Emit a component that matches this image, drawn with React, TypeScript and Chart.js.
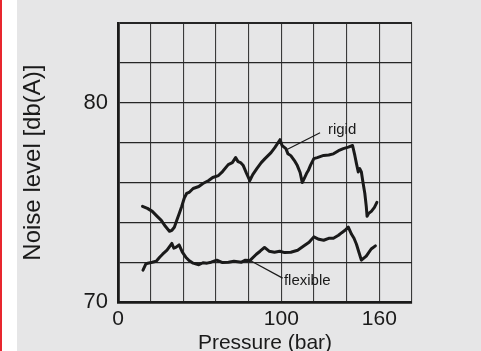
import React, { useEffect, useRef } from "react";
import { Chart, registerables } from "chart.js";

Chart.register(...registerables);

// ---- data ----
const rigidPressure = [15, 18, 21, 24, 26.5, 29, 31.5, 33, 34.5, 36, 37.5, 39, 40.5, 42, 43.5, 46, 49.5, 52, 55.5, 58, 61.5, 64, 67.5, 70, 72, 73.5, 75, 76.7, 78.5, 80.7, 82.5, 85, 87.7, 90, 93.7, 96, 99.2, 100.5, 102.8, 104, 105.8, 108, 109.8, 111.5, 112.8, 114, 115.4, 116.5, 117.9, 119.9, 122, 125.9, 129, 131.9, 135, 137.9, 141, 143.6, 145, 146, 147.1, 148, 149, 150, 151.1, 152, 152.5, 153.5, 155.1, 157, 158.5];
const rigidNoise = [74.8, 74.7, 74.55, 74.3, 74.1, 73.8, 73.55, 73.6, 73.75, 74.1, 74.45, 74.8, 75.2, 75.45, 75.5, 75.7, 75.8, 75.95, 76.1, 76.25, 76.35, 76.55, 76.9, 77.0, 77.25, 77.05, 77.0, 76.85, 76.5, 76.1, 76.4, 76.7, 77.0, 77.2, 77.5, 77.75, 78.15, 77.85, 77.7, 77.45, 77.35, 77.1, 76.85, 76.5, 76.0, 76.2, 76.45, 76.6, 76.87, 77.2, 77.25, 77.36, 77.38, 77.44, 77.6, 77.7, 77.78, 77.86, 77.36, 76.95, 76.53, 76.7, 76.53, 76.0, 75.46, 74.8, 74.3, 74.45, 74.55, 74.75, 75.0];

const flexiblePressure = [15.3, 17, 18.3, 21, 23.4, 25.5, 27.3, 30, 33, 34.2, 35.4, 37.4, 39.4, 41.5, 43.5, 46, 49.5, 52, 54.5, 57, 60.5, 64, 67.6, 71, 75.6, 78, 80.7, 84.7, 87, 89.7, 92.5, 95.8, 99, 102, 105.8, 110, 113.9, 117, 119.9, 123, 125.9, 129, 131.9, 135, 137, 139, 141, 143, 144.5, 146, 147.5, 149, 150.5, 152, 155, 157.6];
const flexibleNoise = [71.6, 71.9, 71.95, 72.0, 72.05, 72.25, 72.4, 72.6, 72.94, 72.7, 72.74, 72.87, 72.5, 72.25, 72.08, 71.95, 71.87, 71.97, 71.95, 72.0, 72.1, 71.98, 72.0, 72.05, 72.0, 72.1, 72.08, 72.4, 72.55, 72.74, 72.55, 72.5, 72.55, 72.48, 72.5, 72.6, 72.82, 73.0, 73.27, 73.15, 73.1, 73.2, 73.2, 73.35, 73.48, 73.6, 73.76, 73.4, 73.2, 72.9, 72.5, 72.1, 72.2, 72.3, 72.66, 72.82];

const xLabeledTicks = [0, 100, 160];
const yLabeledTicks = [70, 80];

// annotation labels: [textX, textY, lineFromX, lineFromY, lineToX, lineToY] in data units
const seriesLabels = ["rigid", "flexible"];
const labelAnchors = [
  [128.5, 78.65, 123.7, 78.5, 103.8, 77.67],
  [101.6, 71.05, 100.8, 71.2, 80.9, 72.08],
];

const FONT = "'Liberation Sans', Arial, Helvetica, sans-serif";
const INK = "#1a1a1a";

const annotationPlugin = {
  id: "seriesAnnotations",
  afterDatasetsDraw(chart: any) {
    const { ctx, scales } = chart;
    const xs = scales.x;
    const ys = scales.y;
    ctx.save();
    seriesLabels.forEach((text, i) => {
      const [tx, ty, x1, y1, x2, y2] = labelAnchors[i];
      ctx.strokeStyle = INK;
      ctx.lineWidth = 1.2;
      ctx.beginPath();
      ctx.moveTo(xs.getPixelForValue(x1), ys.getPixelForValue(y1));
      ctx.lineTo(xs.getPixelForValue(x2), ys.getPixelForValue(y2));
      ctx.stroke();
      ctx.fillStyle = INK;
      ctx.font = `15px ${FONT}`;
      ctx.textAlign = "left";
      ctx.textBaseline = "middle";
      ctx.fillText(text, xs.getPixelForValue(tx), ys.getPixelForValue(ty));
    });
    ctx.restore();
  },
};

export default function App() {
  const ref = useRef<HTMLCanvasElement | null>(null);

  useEffect(() => {
    if (!ref.current) return;
    const toPts = (xs: number[], ys: number[]) => xs.map((x, i) => ({ x, y: ys[i] }));
    const chart = new Chart(ref.current, {
      type: "line",
      data: {
        datasets: [
          {
            label: "rigid",
            data: toPts(rigidPressure, rigidNoise),
            borderColor: INK,
            borderWidth: 3,
            pointRadius: 0,
            tension: 0,
            borderJoinStyle: "round",
            borderCapStyle: "round",
          },
          {
            label: "flexible",
            data: toPts(flexiblePressure, flexibleNoise),
            borderColor: INK,
            borderWidth: 3,
            pointRadius: 0,
            tension: 0,
            borderJoinStyle: "round",
            borderCapStyle: "round",
          },
        ],
      },
      options: {
        responsive: false,
        animation: false,
        devicePixelRatio: 1,
        layout: { padding: { left: 17, top: 19, right: 69, bottom: 0 } },
        plugins: { legend: { display: false }, tooltip: { enabled: false } },
        scales: {
          x: {
            type: "linear",
            min: 0,
            max: 180,
            afterFit: (s: any) => {
              s.height = 49;
            },
            ticks: {
              stepSize: 20,
              autoSkip: false,
              maxRotation: 0,
              padding: 5,
              color: INK,
              font: { family: FONT, size: 21 },
              callback: (v: any) => (xLabeledTicks.includes(Number(v)) ? String(v) : ""),
            },
            grid: { color: "#3a3a3a", lineWidth: 1.1, drawTicks: false },
            border: { color: INK, width: 2.8 },
            title: {
              display: true,
              text: "Pressure (bar)",
              color: INK,
              font: { family: FONT, size: 21, lineHeight: 1 },
              padding: { top: 0, bottom: -3 },
            },
          },
          y: {
            type: "linear",
            min: 70,
            max: 84,
            afterFit: (s: any) => {
              s.width = 101;
            },
            ticks: {
              stepSize: 2,
              autoSkip: false,
              padding: 10,
              color: INK,
              font: { family: FONT, size: 22 },
              callback: (v: any) => (yLabeledTicks.includes(Number(v)) ? String(v) : ""),
            },
            grid: {
              color: "#262626",
              lineWidth: (c: any) => (c.tick && c.tick.value === 84 ? 2 : 1.3),
              drawTicks: false,
            },
            border: { color: INK, width: 2.8 },
            title: {
              display: true,
              text: "Noise level [db(A)]",
              color: INK,
              font: { family: FONT, size: 24, lineHeight: 1.2 },
              padding: { top: 2, bottom: 0 },
            },
          },
        },
      },
      plugins: [annotationPlugin],
    } as any);
    return () => chart.destroy();
  }, []);

  return (
    <div
      style={{
        position: "fixed",
        left: 0,
        top: 0,
        width: 481,
        height: 351,
        background: "#e6e6e7",
        overflow: "hidden",
      }}
    >
      <div style={{ position: "absolute", left: 0, top: 0, width: 2, height: 351, background: "#e8262e" }} />
      <div style={{ position: "absolute", left: 2, top: 0, width: 15, height: 351, background: "#ffffff" }} />
      <canvas
        ref={ref}
        width={481}
        height={351}
        style={{ position: "absolute", left: 0, top: 0, width: 481, height: 351 }}
      />
    </div>
  );
}
